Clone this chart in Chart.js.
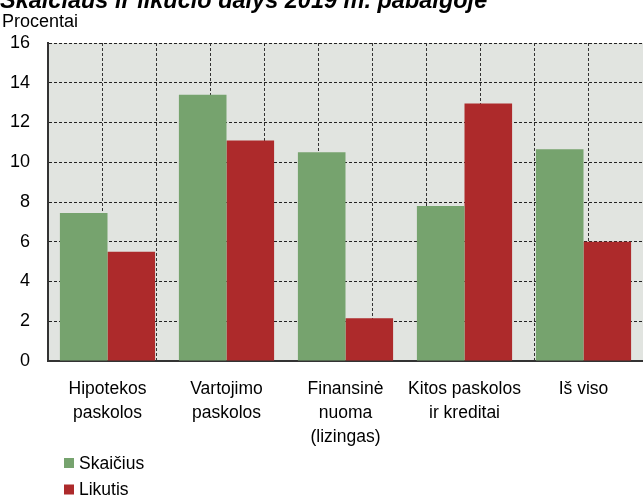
<!DOCTYPE html>
<html>
<head>
<meta charset="utf-8">
<title>Skaičiaus ir likučio dalys</title>
<script src="https://cdn.jsdelivr.net/npm/chart.js@4"></script>
<style>
  html, body { margin: 0; padding: 0; background: #fff; overflow: hidden; }
  #wrap { width: 643px; height: 501px; }
</style>
</head>
<body>
<div id="wrap"><canvas id="grafikas" width="643" height="501"></canvas></div>
<script>
// Duomenys
const kategorijos = [
  ["Hipotekos", "paskolos"],
  ["Vartojimo", "paskolos"],
  ["Finansinė", "nuoma", "(lizingas)"],
  ["Kitos paskolos", "ir kreditai"],
  ["Iš viso"]
];
const skaicius = [7.45, 13.4, 10.5, 7.8, 10.65];
const likutis = [5.5, 11.1, 2.15, 12.95, 6.0];
const yTicks = [0, 2, 4, 6, 8, 10, 12, 14, 16];

const SRIFTAS = "'Liberation Sans', Arial, sans-serif";

// fonas po grafiku
const fonas = {
  id: "fonas",
  beforeDraw(chart) {
    const { ctx, chartArea: a } = chart;
    ctx.save();
    ctx.fillStyle = "#e1e4e0";
    ctx.fillRect(a.left, a.top, a.right - a.left, a.bottom - a.top);
    ctx.restore();
  }
};

// antraštė, vienetai ir legenda
const tekstai = {
  id: "tekstai",
  afterDraw(chart) {
    const ctx = chart.ctx;
    ctx.save();
    ctx.fillStyle = "#000";
    ctx.textAlign = "left";
    ctx.textBaseline = "alphabetic";
    ctx.font = "bold italic 23.5px " + SRIFTAS;
    ctx.fillText("Skaičiaus ir likučio dalys 2019 m. pabaigoje", 0, 8);
    ctx.font = "18px " + SRIFTAS;
    ctx.fillText("Procentai", 2, 27);

    ctx.textBaseline = "middle";
    ctx.font = "17.5px " + SRIFTAS;
    const eilutes = [463, 489.5];
    chart.data.datasets.forEach((ds, i) => {
      const y = eilutes[i];
      ctx.fillStyle = ds.backgroundColor;
      ctx.fillRect(64, y - 5, 10, 10);
      ctx.fillStyle = "#000";
      ctx.fillText(ds.label, 79, y + 1);
    });
    ctx.restore();
  }
};

const ctx = document.getElementById("grafikas").getContext("2d");
new Chart(ctx, {
  type: "bar",
  data: {
    labels: kategorijos,
    datasets: [
      { label: "Skaičius", data: skaicius, backgroundColor: "#76a36e" },
      { label: "Likutis", data: likutis, backgroundColor: "#ad2a2b" }
    ]
  },
  options: {
    responsive: false,
    animation: false,
    devicePixelRatio: 1,
    layout: { padding: { top: 43, right: 0, bottom: 0, left: 0 } },
    datasets: { bar: { categoryPercentage: 0.8, barPercentage: 1.0 } },
    plugins: {
      legend: { display: false },
      title: { display: false },
      tooltip: { enabled: false }
    },
    scales: {
      x: {
        type: "category",
        position: "bottom",
        grid: { display: false, drawTicks: false },
        border: { display: true, color: "#333", width: 2 },
        ticks: {
          color: "#000",
          font: { family: SRIFTAS, size: 17.5, lineHeight: 1.37 },
          padding: 16,
          maxRotation: 0,
          autoSkip: false
        },
        afterFit(s) { s.height = 140; }
      },
      x2: {
        type: "linear",
        position: "bottom",
        min: 0,
        max: kategorijos.length * 2,
        grid: { color: "#333", lineWidth: 1, drawTicks: false },
        border: { display: false, dash: [3, 2] },
        ticks: { display: false, stepSize: 1 },
        afterFit(s) { s.height = 0; }
      },
      y: {
        min: 0,
        max: 16,
        afterBuildTicks(s) { s.ticks = yTicks.map(v => ({ value: v })); },
        grid: { color: "#222", lineWidth: 1, drawTicks: false },
        border: { display: true, color: "#333", width: 2, dash: [3, 2] },
        ticks: {
          color: "#000",
          font: { family: SRIFTAS, size: 18 },
          padding: 18
        },
        afterFit(s) { s.width = 48; }
      }
    }
  },
  plugins: [fonas, tekstai]
});
</script>
</body>
</html>
